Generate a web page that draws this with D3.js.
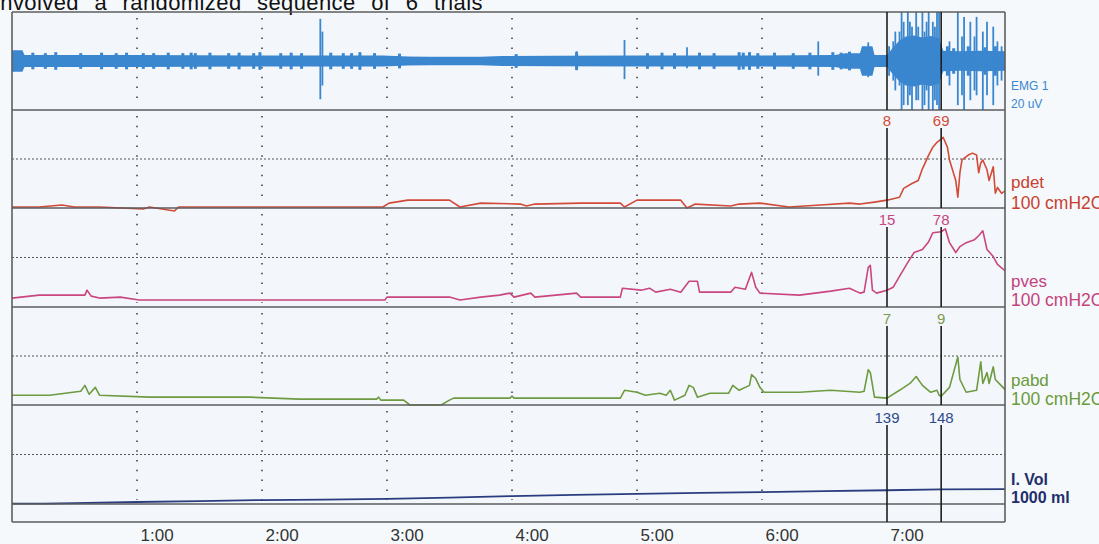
<!DOCTYPE html>
<html><head><meta charset="utf-8">
<script src="https://cdn.jsdelivr.net/npm/d3@7"></script>
<style>
html,body{margin:0;padding:0;background:#f6f9fc;}
svg{display:block;font-family:"Liberation Sans",Arial,sans-serif;}
</style></head>
<body><svg id="c" width="1099" height="544"></svg>
<script>
// ---------- DATA (time in seconds) ----------
const tickTimes  = [60,120,180,240,300,360,420];
const tickLabels = ["1:00","2:00","3:00","4:00","5:00","6:00","7:00"];
const markerTimes = [420, 446];
const markerPdet = ["8","69"];
const markerPves = ["15","78"];
const markerPabd = ["7","9"];
const markerVol  = ["139","148"];

const pdetT = [0,13,24,30,42,63,66,78,80,100,120,138,178,181,190,210,215,225,244,247,251,273,292,294,300,321,324,328,345,349,359,373,388,402,407,414,420,426,428,432,435,437,440,442,444,447,449,450,453,454,455,456,459,461,463,464,465,466,468,469,471,472,473,475,477];
const pdetV = [1,1,3,1,1,-1,1,-3,1,1,1,1,1,5,8,8,1,5,4,2,4,5,5,1,8,8,0,4,2,4,5,1,3,5,4,6,8,11,20,25,28,40,54,62,67,72,62,49,28,11,36,49,54,56,54,36,46,49,39,28,42,15,21,15,18];

const pvesT = [0,13,35,36,38,42,52,61,90,119,153,179,180,210,215,225,234,239,241,249,251,271,273,292,293,302,306,309,316,321,325,329,330,345,347,352,355,357,359,378,393,402,407,409,411,412,413,415,420,423,426,430,433,437,440,442,446,448,450,453,455,458,462,464,466,468,471,473,477];
const pvesV = [9,12,12,17,11,9,10,7,7,7,7,7,10,10,7,10,12,14,10,14,10,14,10,10,19,17,19,15,18,15,26,26,15,15,20,18,35,20,14,12,16,19,14,15,40,42,17,14,17,20,31,45,55,58,66,75,76,79,65,55,61,65,68,72,77,58,51,43,36];

const pabdT = [0,18,33,35,37,40,42,66,114,138,175,176,177,188,191,206,210,212,239,240,241,292,294,300,304,311,314,316,318,323,325,327,329,335,344,346,349,354,355,357,359,361,378,393,407,409,411,412,414,420,426,431,434,437,441,444,445,446,450,454,455,458,463,465,466,468,469,471,472,477];
const pabdV = [10,10,14,20,11,18,10,8,8,6,6,8,5,5,0,0,5,7,7,9,7,7,15,13,10,12,10,15,5,10,20,18,8,12,12,20,15,20,31,27,18,13,13,15,13,14,36,33,8,7,15,22,29,20,13,15,10,9,18,49,26,13,15,44,22,33,22,39,26,15];

const volT = [0,15,30,60,90,120,150,180,210,240,270,300,330,360,390,420,446,477];
const volV = [3,3,8,20,30,40,45,51,65,80,92,102,112,120,130,139,148,150];

// EMG envelope (half amplitude, uV), short bursts and tall spikes
const emgT = [0,5,6,60,120,178,190,200,225,235,260,300,350,395,400,407,408,413,414,420,423,426,429,433,437,441,445,447,455,465,477];
const emgA = [2.2,2.2,1.2,1.2,1.1,1.1,0.9,0.85,0.85,1.0,1.05,1.1,1.1,1.2,1.6,1.6,3.0,3.0,1.2,1.2,2.8,4.2,5.0,5.2,4.8,5.1,4.6,2.1,2.0,2.1,2.0];
const burstT = [10,16,21,33,43,50,55,63,68,75,82,86,88,95,104,109,116,119,129,134,139,153,159,163,167,174,186,242,271,305,312,318,330,337,349,351,354,358,366,375,383,394,398,402,449,452,459,467,472];
const burstA = [1.7,1.6,1.8,1.6,1.7,1.6,1.7,1.6,1.6,1.7,1.6,1.7,1.6,1.7,1.6,1.7,1.6,1.8,1.6,1.7,1.6,1.7,1.6,1.6,1.8,1.6,1.5,1.4,1.8,1.6,1.7,1.6,1.7,1.6,1.8,1.7,1.8,1.6,1.7,1.6,1.7,1.8,1.7,1.9,3.0,2.6,3.0,2.8,3.0];
const spikeT  = [148,149,271,294,324,387,411,421,423,424,426,427,428,430,431,432,434,435,437,438,439,440,442,443,444,445,450,454,456,457,460,462,463,466,468,471,473,475];
const spikeUp = [8.6,6,2.0,4.3,2.8,4.0,3.8,3,4,6,6,10,8,10,8,7,10,7,10,6,8,10,8,7,10,10,4,10,5,9,8,5,9,6,8,7,4,3];
const spikeDn = [7.8,5,1.9,3.7,1.5,3.0,3.3,3,4,6,5,10,9,9,7,10,8,8,10,9,6,10,10,8,9,10,5,9,7,10,8,6,7,10,7,9,5,4];

// ---------- LAYOUT ----------
const svg = d3.select("#c");
const L = 12, R = 1005, TOP = 12, BOT = 522;
const panels = [
  {top:12,  bot:110},
  {top:110, bot:208},
  {top:208, bot:307},
  {top:307, bot:405},
  {top:405, bot:504}
];
const x = d3.scaleLinear().domain([0, 60]).range([L, L + 125]);

const yEmg  = d3.scaleLinear().domain([-10,10]).range([panels[0].bot, panels[0].top]);
const yPdet = d3.scaleLinear().domain([0,100]).range([panels[1].bot, panels[1].top]);
const yPves = d3.scaleLinear().domain([0,100]).range([panels[2].bot, panels[2].top]);
const yPabd = d3.scaleLinear().domain([0,100]).range([panels[3].bot, panels[3].top]);
const yVol  = d3.scaleLinear().domain([0,1000]).range([panels[4].bot, panels[4].top]);

svg.append("rect").attr("x",L).attr("y",TOP).attr("width",R-L).attr("height",BOT-TOP).attr("fill","#f3f7fb");

// title (cropped at the top, as in the source image)
svg.append("text").attr("x",-5).attr("y",10).attr("font-size",22).attr("word-spacing",9)
  .attr("letter-spacing",0.4).attr("fill","#111").text("involved a randomized sequence of 6 trials");

svg.append("defs").append("clipPath").attr("id","clipEmg").append("rect")
  .attr("x",L).attr("y",panels[0].top).attr("width",R-L).attr("height",panels[0].bot-panels[0].top);
svg.select("defs").append("clipPath").attr("id","clipAll").append("rect")
  .attr("x",L).attr("y",TOP).attr("width",R-L).attr("height",BOT-TOP);

// vertical dotted grid (the marker line covers the grid where they coincide)
const grid = svg.append("g");
panels.forEach(p => {
  tickTimes.filter(t => !markerTimes.includes(t)).forEach(t => {
    grid.append("line").attr("x1",x(t)).attr("x2",x(t)).attr("y1",p.top+6).attr("y2",p.bot-4)
      .attr("stroke","#444").attr("stroke-width",1.6).attr("stroke-dasharray","1.5,8.3");
  });
});
// horizontal dotted midlines
[[yPdet,50],[yPves,50],[yPabd,50],[yVol,500]].forEach(([s,v]) => {
  grid.append("line").attr("x1",L).attr("x2",R).attr("y1",s(v)).attr("y2",s(v))
    .attr("stroke","#555").attr("stroke-width",1.2).attr("stroke-dasharray","2,2");
});

// EMG
const emg = svg.append("g").attr("clip-path","url(#clipEmg)");
const emgCol = "#3a86cf";
const envData = emgT.map((t,i)=>({t, a:emgA[i]}));
emg.append("path").datum(envData)
  .attr("d", d3.area().x(d=>x(d.t)).y0(d=>yEmg(-d.a)).y1(d=>yEmg(d.a)).curve(d3.curveLinear))
  .attr("fill",emgCol);
emg.selectAll(".burst").data(burstT.map((t,i)=>({t,a:burstA[i]}))).join("rect")
  .attr("x",d=>x(d.t)-1.5).attr("width",3).attr("y",d=>yEmg(d.a)).attr("height",d=>yEmg(-d.a)-yEmg(d.a))
  .attr("fill",emgCol);
emg.selectAll(".spike").data(spikeT.map((t,i)=>({t,u:spikeUp[i],d:spikeDn[i]}))).join("line")
  .attr("x1",d=>x(d.t)).attr("x2",d=>x(d.t)).attr("y1",d=>yEmg(d.u)).attr("y2",d=>yEmg(-d.d))
  .attr("stroke",emgCol).attr("stroke-width",1.8);

// pressure lines
const traces = svg.append("g").attr("clip-path","url(#clipAll)");
function drawLine(T,V,ys,col,w){
  traces.append("path").datum(T.map((t,i)=>[t,V[i]]))
    .attr("d", d3.line().x(d=>x(d[0])).y(d=>ys(d[1])))
    .attr("fill","none").attr("stroke",col).attr("stroke-width",w).attr("stroke-linejoin","round");
}
drawLine(pdetT,pdetV,yPdet,"#d24a38",1.6);
drawLine(pvesT,pvesV,yPves,"#c9467f",1.6);
drawLine(pabdT,pabdV,yPabd,"#6e9a40",1.6);
drawLine(volT,volV,yVol,"#2b3d80",1.8);

// panel borders
const bord = svg.append("g").attr("stroke","#5d5d5d").attr("stroke-width",1.6);
[12,110,208,307,405,504,522].forEach(y => bord.append("line").attr("x1",L).attr("x2",R).attr("y1",y).attr("y2",y));
[L,R].forEach(xx => bord.append("line").attr("x1",xx).attr("x2",xx).attr("y1",TOP).attr("y2",BOT));

// markers
const mk = svg.append("g");
const gaps = [[110,128],[208,227],[307,326],[405,425]];
markerTimes.forEach(t => {
  let segs = [[TOP, gaps[0][0]]];
  for (let i=0;i<gaps.length;i++) segs.push([gaps[i][1], i+1<gaps.length ? gaps[i+1][0] : BOT]);
  segs.forEach(([a,b]) => mk.append("line").attr("x1",x(t)).attr("x2",x(t)).attr("y1",a).attr("y2",b)
    .attr("stroke","#1e1e1e").attr("stroke-width",1.6));
});
const mLabels = [[markerPdet,126,"#d24a38"],[markerPves,225,"#c9467f"],[markerPabd,324,"#7d9a50"],[markerVol,423,"#2c4a8a"]];
mLabels.forEach(([labs,yy,col]) => {
  labs.forEach((s,i) => mk.append("text").attr("x",x(markerTimes[i])).attr("y",yy)
    .attr("text-anchor","middle").attr("font-size",15).attr("fill",col).text(s));
});

// right labels
const lab = svg.append("g");
function rl(txt,y,col,fs,wt){ lab.append("text").attr("x",1011).attr("y",y).attr("fill",col)
  .attr("font-size",fs).attr("font-weight",wt||"normal").text(txt); }
rl("EMG 1",90,"#3a86cf",12);
rl("20 uV",108,"#3a86cf",12);
rl("pdet",188,"#c9402f",17);
rl("100 cmH2O",209,"#c9402f",17.5);
rl("pves",287,"#c4427c",17);
rl("100 cmH2O",306,"#c4427c",17.5);
rl("pabd",386,"#6a9a3a",17);
rl("100 cmH2O",405,"#6a9a3a",17.5);
rl("I. Vol",485,"#1f2f6a",16,"bold");
rl("1000 ml",503,"#1f2f6a",16,"bold");

// time axis
const ax = svg.append("g").attr("transform","translate(0,541)")
  .call(d3.axisBottom(x).tickValues(tickTimes).tickFormat((d,i)=>tickLabels[i]).tickSize(0).tickPadding(0));
ax.select(".domain").remove();
ax.selectAll("text").attr("text-anchor","start").attr("dx",3).attr("dy",0).attr("y",0)
  .attr("font-size",17).attr("fill","#333").attr("font-family","Liberation Sans, Arial, sans-serif");
</script></body></html>
